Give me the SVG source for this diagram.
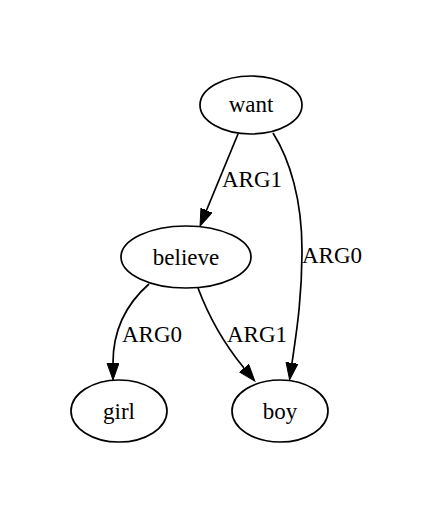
<svg xmlns="http://www.w3.org/2000/svg" width="435" height="515" viewBox="0 0 435 515">
<style>
.node ellipse{fill:none;stroke:#000;stroke-width:1.7}
text{font-family:"Liberation Serif","Times New Roman",serif;font-size:23px;fill:#000}
.node text{text-anchor:middle}
.edge path{fill:none;stroke:#000;stroke-width:1.7}
</style>
<defs>
<marker id="arrow" markerUnits="userSpaceOnUse" markerWidth="18" markerHeight="13" refX="0" refY="6" orient="auto">
<path d="M0,0 L17,6 L0,12 z" fill="#000" stroke="#000" stroke-width="1"/>
</marker>
</defs>
<rect width="435" height="515" fill="#fff"/>
<g id="edges">
<g class="edge" id="e_want_believe"><path d="M238,134 L206.5,210.3" marker-end="url(#arrow)"/><text x="222" y="187">ARG1</text></g>
<g class="edge" id="e_want_boy"><path d="M273,133 C290,160 302,200 302,250 C302,300 296,335 292,363" marker-end="url(#arrow)"/><text x="302" y="263">ARG0</text></g>
<g class="edge" id="e_believe_girl"><path d="M149,284 C125,305 113,330 113,363" marker-end="url(#arrow)"/><text x="122" y="342">ARG0</text></g>
<g class="edge" id="e_believe_boy"><path d="M198,288 C210,320 225,345 244,368" marker-end="url(#arrow)"/><text x="227" y="342">ARG1</text></g>
</g>
<g class="node" id="want"><ellipse cx="251" cy="105" rx="51" ry="29"/><text x="251" y="112">want</text></g>
<g class="node" id="believe"><ellipse cx="186" cy="257" rx="65" ry="31"/><text x="186" y="265">believe</text></g>
<g class="node" id="girl"><ellipse cx="119" cy="411" rx="48" ry="31"/><text x="119" y="419">girl</text></g>
<g class="node" id="boy"><ellipse cx="280" cy="411" rx="48" ry="31"/><text x="280" y="419">boy</text></g>
</svg>
